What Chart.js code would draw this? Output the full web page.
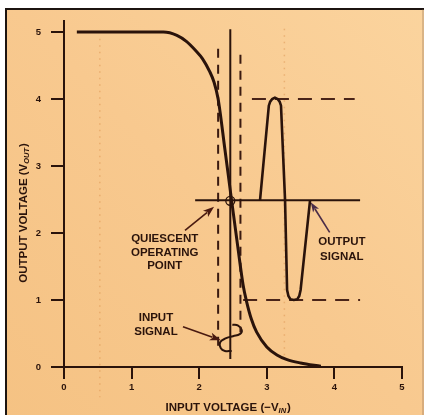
<!DOCTYPE html>
<html>
<head>
<meta charset="utf-8">
<script src="https://cdn.jsdelivr.net/npm/chart.js@4"></script>
<style>
  html, body { margin: 0; padding: 0; background: #ffffff; }
  #wrap { width: 424px; height: 415px; position: relative; }
</style>
</head>
<body>
<div id="wrap"><canvas id="c"></canvas></div>
<script>
// Axis ticks (volts)
const xTicks = [0, 1, 2, 3, 4, 5];
const yTicks = [0, 1, 2, 3, 4, 5];

// Inverter transfer characteristic: output voltage vs. input voltage
const transferX = [0.19, 1.47, 1.67, 1.81, 1.95, 2.05, 2.15, 2.22, 2.28, 2.38, 2.48, 2.57, 2.65, 2.70, 2.77, 2.85, 3.00, 3.15, 3.30, 3.50, 3.80];
const transferY = [5.00, 5.00, 4.95, 4.86, 4.72, 4.60, 4.42, 4.25, 4.00, 3.25, 2.48, 1.80, 1.22, 0.98, 0.72, 0.52, 0.30, 0.18, 0.11, 0.06, 0.01];

// Amplified output swing drawn about the operating level
const outputX = [2.90, 3.03, 3.05, 3.08, 3.12, 3.16, 3.19, 3.21, 3.27, 3.30, 3.32, 3.35, 3.40, 3.45, 3.48, 3.50, 3.64];
const outputY = [2.49, 3.90, 3.96, 4.00, 4.02, 4.00, 3.96, 3.90, 2.49, 1.15, 1.06, 1.01, 1.00, 1.01, 1.06, 1.15, 2.49];

// Small input swing drawn about the bias voltage
const inputX = [2.49, 2.57, 2.63, 2.60, 2.50, 2.40, 2.31, 2.32, 2.38, 2.48];
const inputY = [0.63, 0.62, 0.55, 0.49, 0.46, 0.43, 0.37, 0.28, 0.24, 0.24];

// Operating level and output swing limits
const baselineX = [1.94, 4.38];
const baselineY = [2.49, 2.49];
const highLimitX = [2.78, 4.30];
const highLimitY = [4.00, 4.00];
const lowLimitX = [2.65, 4.38];
const lowLimitY = [1.00, 1.00];

// Input bias (solid) and input swing limits (dashed)
const biasX = [2.46, 2.46];
const biasY = [5.04, 0.12];
const inLowX = [2.28, 2.28];
const inLowY = [4.75, 0.30];
const inHighX = [2.61, 2.61];
const inHighY = [4.66, 0.52];

// Quiescent operating point
const quiescentX = [2.46];
const quiescentY = [2.48];

const INK = '#2a130b';
const FONT = "'Liberation Sans', Arial, sans-serif";

const pts = (xs, ys) => xs.map((x, i) => ({ x: x, y: ys[i] }));

function lineSet(xs, ys, extra) {
  return Object.assign({
    data: pts(xs, ys),
    showLine: true,
    borderColor: INK,
    borderWidth: 2,
    pointRadius: 0,
    pointHoverRadius: 0,
    tension: 0,
    fill: false,
    clip: false
  }, extra || {});
}

function arrow(ctx, x1, y1, x2, y2, color, headLen, headW) {
  const a = Math.atan2(y2 - y1, x2 - x1);
  ctx.save();
  ctx.strokeStyle = color;
  ctx.fillStyle = color;
  ctx.lineWidth = 1.6;
  ctx.beginPath();
  ctx.moveTo(x1, y1);
  ctx.lineTo(x2 - Math.cos(a) * headLen * 0.8, y2 - Math.sin(a) * headLen * 0.8);
  ctx.stroke();
  ctx.translate(x2, y2);
  ctx.rotate(a);
  ctx.beginPath();
  ctx.moveTo(0, 0);
  ctx.lineTo(-headLen, -headW);
  ctx.lineTo(-headLen * 0.75, 0);
  ctx.lineTo(-headLen, headW);
  ctx.closePath();
  ctx.fill();
  ctx.restore();
}

// Draws "MAIN (V" + subscript + ")" centred at (cx, cy), optionally rotated
function subscriptText(ctx, main, sub, cx, cy, rot) {
  const big = 'bold 11.5px ' + FONT;
  const small = 'italic bold 7.5px ' + FONT;
  ctx.save();
  ctx.translate(cx, cy);
  ctx.rotate(rot);
  ctx.fillStyle = INK;
  ctx.textBaseline = 'alphabetic';
  ctx.font = big;
  const w1 = ctx.measureText(main).width;
  const w3 = ctx.measureText(')').width;
  ctx.font = small;
  const w2 = ctx.measureText(sub).width + 1;
  const total = w1 + w2 + w3;
  let x = -total / 2;
  ctx.font = big;
  ctx.textAlign = 'left';
  ctx.fillText(main, x, 4);
  x += w1;
  ctx.font = small;
  ctx.fillText(sub, x, 6);
  x += w2;
  ctx.font = big;
  ctx.fillText(')', x, 4);
  ctx.restore();
}

const paperPlugin = {
  id: 'paper',
  beforeDraw(chart) {
    const ctx = chart.ctx;
    const W = chart.width, H = chart.height;
    ctx.save();
    ctx.fillStyle = '#ffffff';
    ctx.fillRect(0, 0, W, H);
    const g = ctx.createLinearGradient(0, H, W, 0);
    g.addColorStop(0, '#f5c283');
    g.addColorStop(0.5, '#f8c98f');
    g.addColorStop(1, '#fbd49e');
    ctx.fillStyle = g;
    ctx.fillRect(5, 8, W - 5, H - 8);
    ctx.strokeStyle = '#1c1410';
    ctx.lineWidth = 2;
    ctx.beginPath();
    ctx.moveTo(6, H);
    ctx.lineTo(6, 9);
    ctx.lineTo(W, 9);
    ctx.stroke();
    ctx.strokeStyle = 'rgba(120,90,70,0.5)';
    ctx.lineWidth = 1;
    ctx.beginPath();
    ctx.moveTo(W - 1, 9);
    ctx.lineTo(W - 1, H);
    ctx.stroke();

    // faint dotted print marks
    const xs = chart.scales.x, ys = chart.scales.y;
    ctx.strokeStyle = 'rgba(214,140,70,0.45)';
    ctx.lineWidth = 1.5;
    ctx.setLineDash([1.5, 5]);
    [[0.53, 4.9, -0.45], [3.26, 5.05, 0.15]].forEach(function (l) {
      ctx.beginPath();
      ctx.moveTo(xs.getPixelForValue(l[0]), ys.getPixelForValue(l[1]));
      ctx.lineTo(xs.getPixelForValue(l[0]), ys.getPixelForValue(l[2]));
      ctx.stroke();
    });
    ctx.restore();
  },
  afterDraw(chart) {
    const ctx = chart.ctx;
    const xs = chart.scales.x, ys = chart.scales.y;
    const px = v => xs.getPixelForValue(v);
    const py = v => ys.getPixelForValue(v);

    // y axis runs a little above the 5 V tick
    ctx.save();
    ctx.strokeStyle = INK;
    ctx.lineWidth = 2;
    ctx.beginPath();
    ctx.moveTo(xs.left, py(5));
    ctx.lineTo(xs.left, py(5.18));
    ctx.stroke();
    ctx.restore();

    // Axis titles
    subscriptText(ctx, 'INPUT VOLTAGE (\u2212V', 'IN', px(2.43), chart.height - 8, 0);
    subscriptText(ctx, 'OUTPUT VOLTAGE (V', 'OUT', 23, py(2.3), -Math.PI / 2);

    // Callout labels
    ctx.save();
    ctx.fillStyle = INK;
    ctx.font = 'bold 11.5px ' + FONT;
    ctx.textAlign = 'center';
    ctx.textBaseline = 'middle';
    ctx.fillText('QUIESCENT', px(1.49), py(1.91));
    ctx.fillText('OPERATING', px(1.49), py(1.71));
    ctx.fillText('POINT', px(1.49), py(1.51));
    ctx.fillText('OUTPUT', px(4.11), py(1.87));
    ctx.fillText('SIGNAL', px(4.11), py(1.65));
    ctx.fillText('INPUT', px(1.36), py(0.73));
    ctx.fillText('SIGNAL', px(1.36), py(0.53));
    ctx.restore();

    arrow(ctx, px(1.79), py(2.04), px(2.22), py(2.39), '#4a1a10', 11, 4);
    arrow(ctx, px(1.76), py(0.60), px(2.32), py(0.40), '#4a1a10', 11, 4);
    arrow(ctx, px(3.93), py(2.01), px(3.65), py(2.46), '#4a2c48', 10, 3.5);
  }
};

const tickFont = { family: FONT, size: 9.5, weight: 'bold' };

new Chart(document.getElementById('c'), {
  type: 'scatter',
  data: {
    datasets: [
      lineSet(transferX, transferY, { borderWidth: 3, cubicInterpolationMode: 'monotone' }),
      lineSet(outputX, outputY, { borderWidth: 2.6 }),
      lineSet(baselineX, baselineY, { borderWidth: 2 }),
      lineSet(highLimitX, highLimitY, { borderWidth: 2, borderColor: '#4a2418', borderDash: [14, 9] }),
      lineSet(lowLimitX, lowLimitY, { borderWidth: 2, borderColor: '#4a2418', borderDash: [14, 9] }),
      lineSet(biasX, biasY, { borderWidth: 2 }),
      lineSet(inLowX, inLowY, { borderWidth: 2, borderColor: '#3a1a10', borderDash: [9, 7] }),
      lineSet(inHighX, inHighY, { borderWidth: 2, borderColor: '#3a1a10', borderDash: [9, 7] }),
      lineSet(inputX, inputY, { borderWidth: 2, tension: 0.45 }),
      {
        data: pts(quiescentX, quiescentY),
        showLine: false,
        pointRadius: 4.5,
        pointStyle: 'circle',
        pointBorderColor: INK,
        pointBorderWidth: 1.3,
        pointBackgroundColor: 'rgba(0,0,0,0)',
        clip: false
      }
    ]
  },
  options: {
    responsive: true,
    maintainAspectRatio: false,
    devicePixelRatio: 1,
    animation: false,
    events: [],
    layout: { padding: { top: 32, right: 22, left: 0, bottom: 0 } },
    plugins: { legend: { display: false }, tooltip: { enabled: false } },
    scales: {
      x: {
        type: 'linear',
        min: 0,
        max: 5,
        afterBuildTicks: s => { s.ticks = xTicks.map(v => ({ value: v })); },
        afterFit: s => { s.height = 48; },
        ticks: { color: INK, font: tickFont, padding: 3 },
        grid: { drawOnChartArea: false, drawTicks: true, tickLength: 12, color: INK, lineWidth: 2 },
        border: { display: true, color: INK, width: 2 }
      },
      y: {
        type: 'linear',
        min: 0,
        max: 5,
        afterBuildTicks: s => { s.ticks = yTicks.map(v => ({ value: v })); },
        afterFit: s => { s.width = 64; },
        ticks: { color: INK, font: tickFont, padding: 10 },
        grid: { drawOnChartArea: false, drawTicks: true, tickLength: 13, color: INK, lineWidth: 2 },
        border: { display: true, color: INK, width: 2 }
      }
    }
  },
  plugins: [paperPlugin]
});
</script>
</body>
</html>
